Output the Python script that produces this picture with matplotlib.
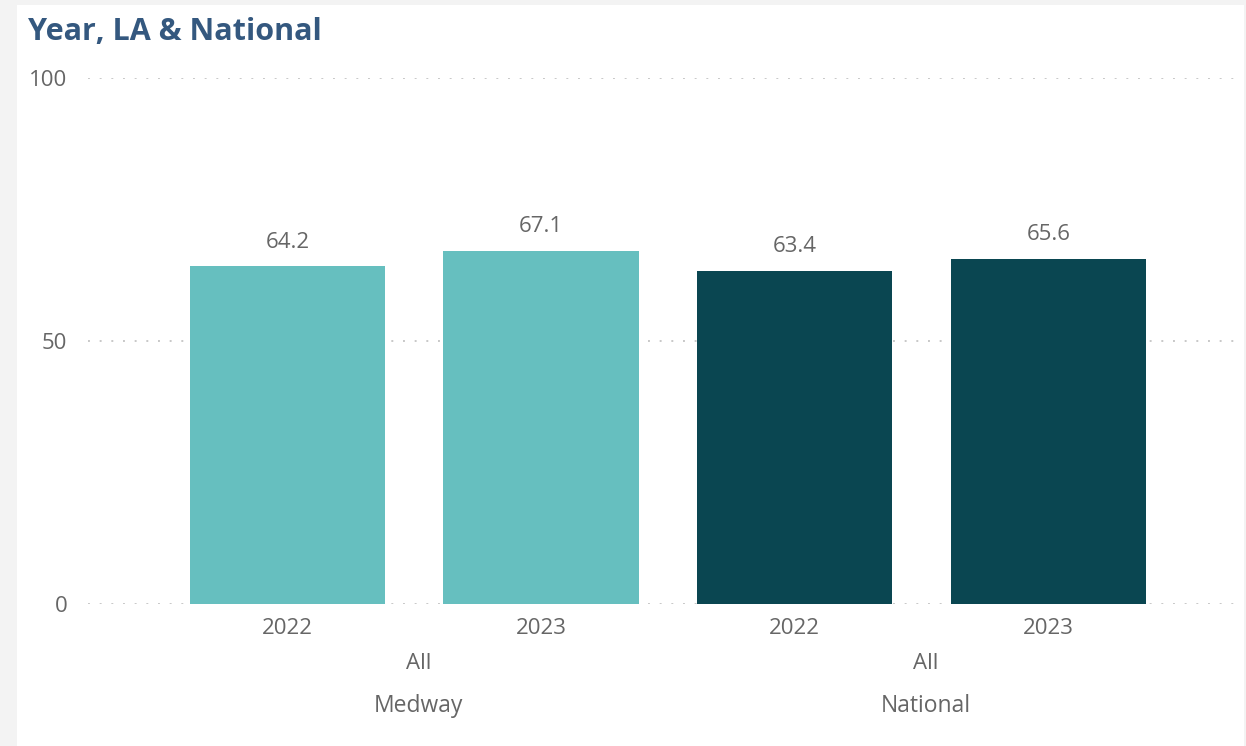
import matplotlib
matplotlib.use("Agg")
import matplotlib.pyplot as plt
from matplotlib.patches import Rectangle

# data
areas = ["Medway", "National"]
years = ["2022", "2023"]
medway_vals = [64.2, 67.1]
national_vals = [63.4, 65.6]
y_ticks = [0, 50, 100]

light_teal = "#66bfbf"
dark_teal = "#0a4651"
text_grey = "#666666"

plt.rcParams["font.family"] = ["Open Sans", "DejaVu Sans"]

fig = plt.figure(figsize=(12.46, 7.46), dpi=100)
fig.patch.set_facecolor("#f3f3f3")
# white card like the dashboard tile
fig.patches.append(Rectangle((17 / 1246, 0), 1 - 17 / 1246 - 2 / 1246, 1 - 5 / 746,
                             transform=fig.transFigure, facecolor="white",
                             edgecolor="none", zorder=-10))

ax = fig.add_axes([88 / 1246, 142 / 746, 1152 / 1246, 526 / 746])
ax.set_facecolor("none")

values = medway_vals + national_vals
colors = [light_teal] * len(medway_vals) + [dark_teal] * len(national_vals)
xs = list(range(len(values)))
bars = ax.bar(xs, values, width=0.77, color=colors, zorder=2)

for x, v in zip(xs, values):
    ax.text(x, v + 2.6, f"{v:.1f}", ha="center", va="bottom",
            fontsize=16, color=text_grey)

ax.set_ylim(0, 100)
ax.set_xlim(-0.786, 3.755)
ax.set_yticks(y_ticks)
ax.set_yticklabels([str(t) for t in y_ticks], fontsize=16, color=text_grey)
ax.tick_params(axis="y", length=0, pad=15)
ax.set_xticks(xs)
ax.set_xticklabels(years * len(areas), fontsize=16, color=text_grey)
ax.tick_params(axis="x", length=0, pad=10)

# dotted gridlines sit behind the bars
for t in y_ticks:
    ax.axhline(t, color="#c8c8c8", linewidth=1.4, dashes=(1, 5), zorder=1)

for s in ax.spines.values():
    s.set_visible(False)

# group labels under the year labels
n = len(years)
for i, area in enumerate(areas):
    cx = i * n + (n - 1) / 2 + 0.016
    ax.text(cx, -11.3, "All", ha="center", va="center", fontsize=16,
            color=text_grey, transform=ax.transData, clip_on=False)
    ax.text(cx, -19.3, area, ha="center", va="center", fontsize=16.5,
            color=text_grey, transform=ax.transData, clip_on=False)

fig.text(28 / 1246, 1 - 32 / 746, "Year, LA & National", fontsize=22,
         fontweight="bold", color="#34587f", ha="left", va="center")

fig.savefig("out.png", dpi=100, facecolor=fig.get_facecolor())
